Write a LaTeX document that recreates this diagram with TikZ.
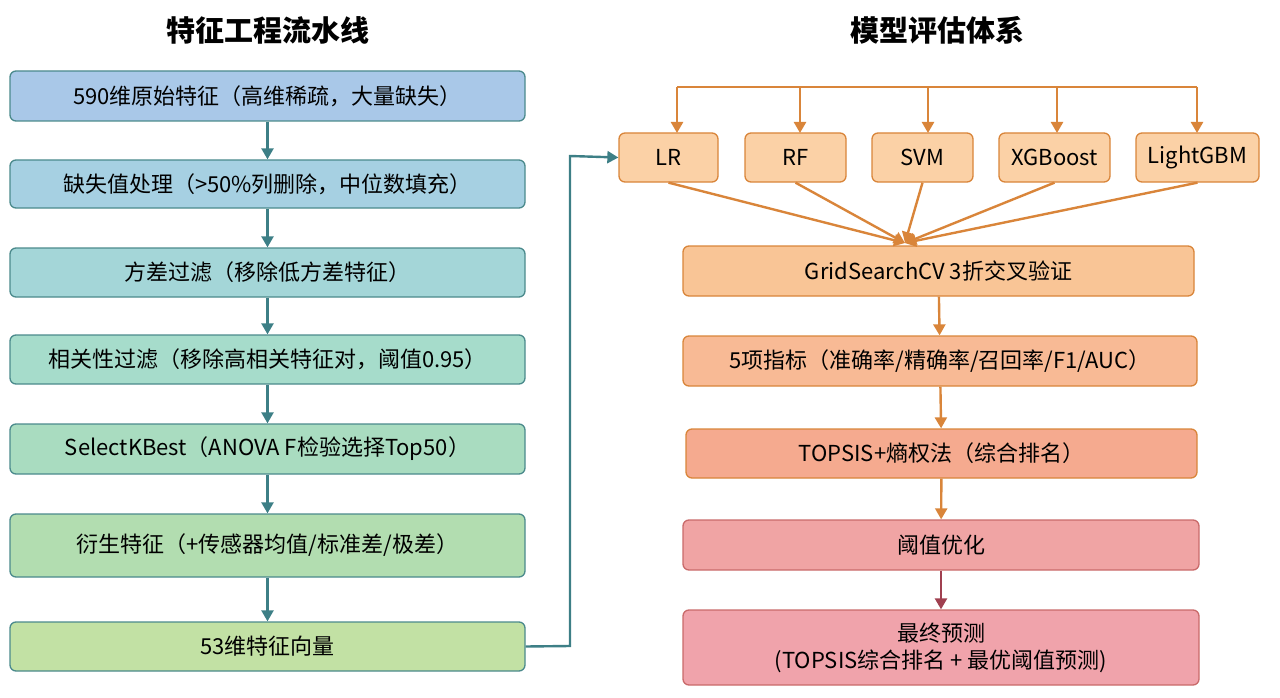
\documentclass[tikz,border=0pt]{standalone}
\usepackage{fontspec}
\setmainfont{Noto Sans CJK SC}
\usetikzlibrary{arrows.meta}
\definecolor{c1}{HTML}{A9C8E8}\definecolor{c2}{HTML}{A6D0E2}\definecolor{c3}{HTML}{A4D6D8}
\definecolor{c4}{HTML}{A6DCCB}\definecolor{c5}{HTML}{A9DCC0}\definecolor{c6}{HTML}{B2DDB0}
\definecolor{c7}{HTML}{C2E1A4}\definecolor{lb}{HTML}{4B8A8C}\definecolor{la}{HTML}{3D7F86}
\definecolor{mo}{HTML}{FBD1A6}\definecolor{ob}{HTML}{D9853A}\definecolor{r1}{HTML}{F9C596}
\definecolor{r2}{HTML}{F8BA95}\definecolor{r3}{HTML}{F5AA8F}\definecolor{r4}{HTML}{F0A4A4}
\definecolor{r5}{HTML}{F0A3AB}\definecolor{rb}{HTML}{C96A6A}\definecolor{ra}{HTML}{A04050}
\begin{document}
\begin{tikzpicture}[x=1pt,y=-1pt,
 lbox/.style={draw=lb,line width=1.3pt,rounded corners=6pt,minimum width=515pt,inner sep=0pt,font=\fontsize{22}{27}\selectfont,align=center},
 rbox/.style={draw=ob,line width=1.3pt,rounded corners=6pt,inner sep=0pt,font=\fontsize{22}{27}\selectfont,align=center},
 la/.style={draw=la,line width=2.4pt,-{Triangle[length=11pt,width=12pt]}},
 oa/.style={draw=ob,line width=2.4pt,-{Triangle[length=11pt,width=12pt]}}]
\useasboundingbox (0,0) rectangle (1280,698);
\node[font=\fontsize{29}{33}\selectfont\bfseries] (t1) at (268,30) {特征工程流水线};
\node[font=\fontsize{29}{33}\selectfont\bfseries] (t2) at (937,30) {模型评估体系};
\node[lbox,fill=c1,minimum height=50pt] (a1) at (267.5,96) {590维原始特征（高维稀疏，大量缺失）};
\node[lbox,fill=c2,minimum height=48pt] (a2) at (267.5,184) {缺失值处理（>50\%列删除，中位数填充）};
\node[lbox,fill=c3,minimum height=49pt] (a3) at (267.5,272.5) {方差过滤（移除低方差特征）};
\node[lbox,fill=c4,minimum height=49pt] (a4) at (267.5,359.5) {相关性过滤（移除高相关特征对，阈值0.95）};
\node[lbox,fill=c5,minimum height=50pt] (a5) at (267.5,449) {SelectKBest（ANOVA F检验选择Top50）};
\node[lbox,fill=c6,minimum height=63pt] (a6) at (267.5,545.5) {衍生特征（+传感器均值/标准差/极差）};
\node[lbox,fill=c7,minimum height=49pt] (a7) at (267.5,646.5) {53维特征向量};
\foreach \i/\j in {a1/a2,a2/a3,a3/a4,a4/a5,a5/a6,a6/a7} \draw[la] (\i) -- (\j);
\node[rbox,fill=mo,minimum width=99pt,minimum height=49pt] (m1) at (668.5,157.5) {LR};
\node[rbox,fill=mo,minimum width=101pt,minimum height=49pt] (m2) at (795.5,157.5) {RF};
\node[rbox,fill=mo,minimum width=101pt,minimum height=49pt] (m3) at (922.5,157.5) {SVM};
\node[rbox,fill=mo,minimum width=111pt,minimum height=49pt] (m4) at (1054.5,157.5) {XGBoost};
\node[rbox,fill=mo,minimum width=123pt,minimum height=49pt] (m5) at (1197.5,157.5) {LightGBM};
\coordinate (bl) at (677,87); \coordinate (br) at (1197,87);
\draw[ob,line width=2.4pt] (bl) -- (br);
\foreach \x/\m in {677/m1,800/m2,928/m3,1057/m4,1197/m5} \draw[oa] (\x,87) -- (\x,133);
\draw[la] (a7.east) -- (570,646) -- (570,156) -- (m1.west);
\node[rbox,fill=r1,minimum width=511pt,minimum height=50pt] (g) at (938.5,271) {GridSearchCV 3折交叉验证};
\coordinate (gc) at (905,243);
\foreach \m in {m1,m2,m3,m4,m5} \draw[oa] (\m.south) -- (gc);
\node[rbox,fill=r2,minimum width=514pt,minimum height=50pt] (p) at (940,361) {5项指标（准确率/精确率/召回率/F1/AUC）};
\node[rbox,fill=r3,minimum width=511pt,minimum height=49pt] (tp) at (941.5,453.5) {TOPSIS+熵权法（综合排名）};
\node[rbox,draw=rb,fill=r4,minimum width=516pt,minimum height=50pt] (th) at (941,545) {阈值优化};
\node[rbox,draw=rb,fill=r5,minimum width=516pt,minimum height=75pt] (f) at (941,647.5) {最终预测\\(TOPSIS综合排名 + 最优阈值预测)};
\draw[oa] (g) -- (p); \draw[oa] (p) -- (tp); \draw[oa] (tp) -- (th);
\draw[ra,line width=2.4pt,-{Triangle[length=11pt,width=12pt]}] (th) -- (f);
\end{tikzpicture}
\end{document}
